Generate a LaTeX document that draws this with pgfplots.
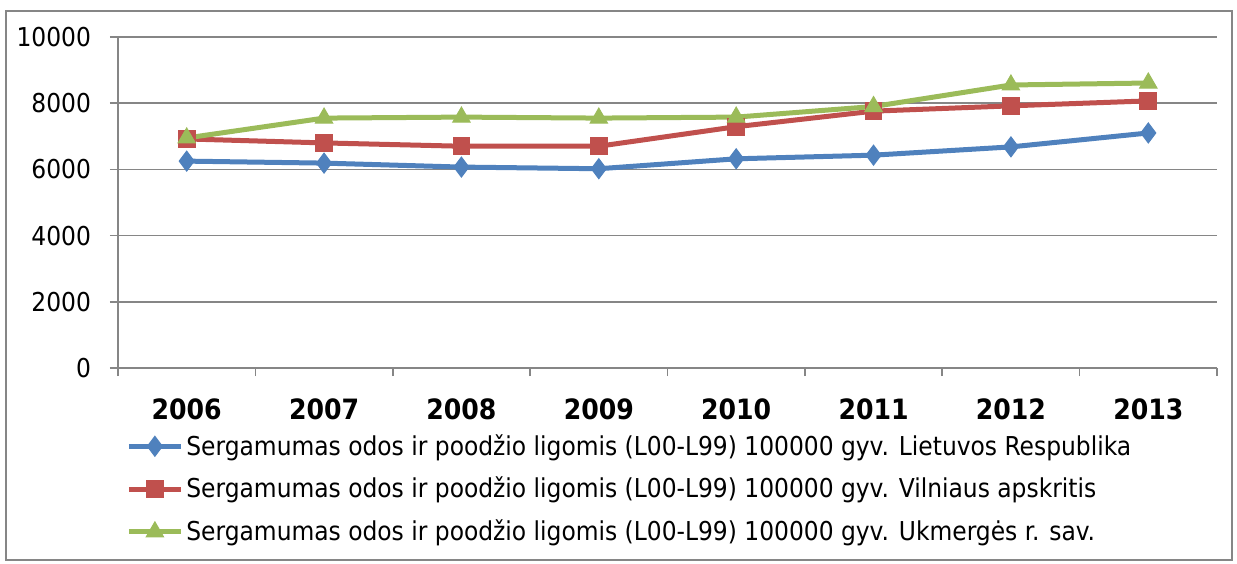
\documentclass[border=0pt]{standalone}
\usepackage{pgfplots}
\pgfplotsset{compat=1.18}
\usepackage{fontspec}
\setmainfont{DejaVu Sans Condensed}
\definecolor{serBlue}{HTML}{4F81BD}
\definecolor{serRed}{HTML}{C0504D}
\definecolor{serGreen}{HTML}{9BBB59}
\definecolor{gridGray}{HTML}{868686}
\begin{document}
\begin{tikzpicture}
\useasboundingbox (-59bp,-98bp) rectangle (559.5bp,184bp);
\draw[gridGray, line width=0.8bp] (-56bp,-96bp) rectangle (557bp,178.5bp);
\begin{axis}[
  at={(0,0)}, anchor=south west,
  scale only axis, width=549.5bp, height=165.5bp,
  xmin=-0.5, xmax=7.5, ymin=0, ymax=10000,
  axis x line=bottom, axis y line=left,
  axis line style={gridGray, line width=0.8bp, -},
  xtick={0,...,7},
  xticklabels={2006,2007,2008,2009,2010,2011,2012,2013},
  minor xtick={-0.5,0.5,...,7.5},
  major x tick style={draw=none},
  minor x tick style={gridGray, line width=0.8bp},
  minor tick length=4bp,
  tick align=outside,
  ytick={0,2000,...,10000},
  scaled y ticks=false,
  major tick length=4bp,
  y tick style={gridGray, line width=0.8bp},
  ymajorgrids, grid style={gridGray, line width=0.8bp},
  /pgf/number format/1000 sep={},
  /pgf/number format/assume math mode=true,
  tick label style={font=\fontsize{13bp}{15bp}\selectfont},
  xticklabel style={font=\fontsize{14bp}{16bp}\selectfont\bfseries, yshift=-8bp},
  yticklabel style={xshift=-6bp},
  legend style={at={(4bp,-31.5bp)}, anchor=north west, draw=none, fill=none,
    font=\fontsize{13bp}{15bp}\selectfont, row sep=6.5bp,
    legend cell align=left, inner sep=0pt,
    nodes={inner sep=1.5bp}},
  legend image code/.code={
    \draw[mark repeat=2, mark phase=2] plot coordinates {(0bp,0bp) (13bp,0bp) (26bp,0bp)};
  },
  every axis plot/.append style={line width=2.5bp},
]
\addplot[serBlue, mark=diamond*, mark size=5bp, mark options={solid, line width=0.5bp}]
  coordinates {(0,6250) (1,6190) (2,6070) (3,6020) (4,6320) (5,6430) (6,6680) (7,7100)};
\addlegendentry{Sergamumas odos ir poodžio ligomis (L00-L99) 100000 gyv. Lietuvos Respublika}
\addplot[serRed, mark=square*, mark size=4.2bp, mark options={solid, line width=0.5bp}]
  coordinates {(0,6920) (1,6800) (2,6700) (3,6700) (4,7290) (5,7760) (6,7920) (7,8070)};
\addlegendentry{Sergamumas odos ir poodžio ligomis (L00-L99) 100000 gyv. Vilniaus apskritis}
\addplot[serGreen, mark=triangle*, mark size=5bp, mark options={solid, line width=0.5bp}]
  coordinates {(0,6950) (1,7550) (2,7580) (3,7550) (4,7580) (5,7900) (6,8550) (7,8610)};
\addlegendentry{Sergamumas odos ir poodžio ligomis (L00-L99) 100000 gyv. Ukmergės r. sav.}
\end{axis}
\end{tikzpicture}
\end{document}
